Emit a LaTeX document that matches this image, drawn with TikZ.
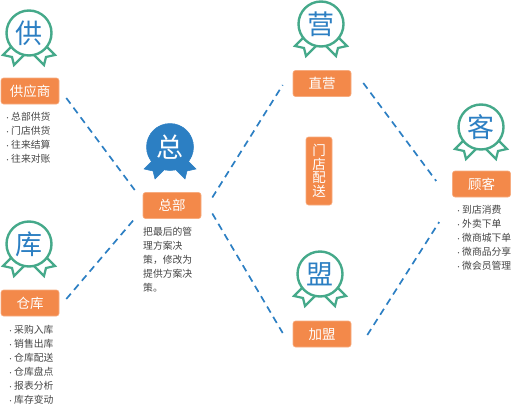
\documentclass[tikz,border=0pt]{standalone}
\usepackage{fontspec}
\setmainfont{Noto Sans CJK SC}
\definecolor{medalgreen}{HTML}{45A98A}
\definecolor{medalblue}{HTML}{2C7FC3}
\definecolor{boxorange}{HTML}{F3894A}
\definecolor{listgray}{HTML}{444444}
\newcommand{\itemdot}{\makebox[6.5pt][l]{\fontsize{6}{6}\selectfont ·}}
\tikzset{
  tag/.style={fill=boxorange,draw=boxorange!70!white,line width=0.6pt,rounded corners=2.5pt,text=white,
    font=\fontsize{13.5}{13.5}\selectfont,inner sep=0pt,minimum width=58pt,minimum height=26pt},
  medal/.style={circle,draw=medalgreen,fill=white,line width=2.4pt,minimum size=45pt,inner sep=0pt,
    text=medalblue,font=\fontsize{27}{27}\selectfont},
  medalhq/.style={medal,draw=medalblue,fill=medalblue,line width=0.5pt,minimum size=47pt,text=white},
  items/.style={anchor=north west,align=left,inner sep=0pt,text=listgray,
    font=\fontsize{9.8}{14}\selectfont},
  link/.style={draw=medalblue,line width=1.7pt,dash pattern=on 7pt off 5pt},
  pics/ribbons/.style={code={
    \draw[#1,line join=miter] (-17,13) -- (-26,22) -- (-17,24) -- (-15,32) -- (-5,22)
      (17,13) -- (26,22) -- (17,24) -- (15,32) -- (5,22);
  }}
}
\begin{document}
\begin{tikzpicture}[x=1pt,y=-1pt]
      \useasboundingbox (0,0) rectangle (513,404);

      % Ribbons
      \pic at (29,33) {ribbons={draw=medalgreen,fill=white,line width=2.2pt}};
      \pic at (29,244) {ribbons={draw=medalgreen,fill=white,line width=2.2pt}};
      \pic at (321,24) {ribbons={draw=medalgreen,fill=white,line width=2.2pt}};
      \pic at (320,274) {ribbons={draw=medalgreen,fill=white,line width=2.2pt}};
      \pic at (481,127) {ribbons={draw=medalgreen,fill=white,line width=2.2pt}};
      \pic at (170,147) {ribbons={draw=medalblue,fill=medalblue,line width=0.5pt}};

      % Medals
      \node[medal] (medalgong) at (29,33) {供};
      \node[medal] (medalku) at (29,244) {库};
      \node[medal] (medalying) at (321,24) {营};
      \node[medal] (medalmeng) at (320,274) {盟};
      \node[medal] (medalke) at (481,127) {客};
      \node[medalhq] (medalzong) at (170,147) {总};

      % Tags
      \node[tag] (supplier) at (30,91) {供应商};
      \node[tag] (store) at (30,303) {仓库};
      \node[tag] (hq) at (172,205.5) {总部};
      \node[tag] (direct) at (322,83.5) {直营};
      \node[tag] (franchise) at (322,334) {加盟};
      \node[tag] (customer) at (481.5,184) {顾客};
      \node[tag,minimum width=26pt,minimum height=68pt,align=center] (delivery) at (319,171) {门\\店\\配\\送};

      % Item lists
      \node[items] (supplierlist) at (4.5,112) {\itemdot 总部供货\\\itemdot 门店供货\\\itemdot 往来结算\\\itemdot 往来对账};
      \node[items] (storelist) at (7.5,325) {\itemdot 采购入库\\\itemdot 销售出库\\\itemdot 仓库配送\\\itemdot 仓库盘点\\\itemdot 报表分析\\\itemdot 库存变动};
      \node[items] (hqnote) at (143,227) {把最后的管\\理方案决\\策，修改为\\提供方案决\\策。};
      \node[items] (customerlist) at (455.5,205) {\itemdot 到店消费\\\itemdot 外卖下单\\\itemdot 微商城下单\\\itemdot 微商品分享\\\itemdot 微会员管理};

      % Dashed links
      \draw[link] ([shift={(7,7)}]supplier.east) -- ([shift={(-8,-15.5)}]hq.west);
      \draw[link] ([shift={(7,-4)}]store.east) -- ([shift={(-7,12)}]hq.west);
      \draw[link] ([shift={(11,-8)}]hq.east) -- ([shift={(-10,1.5)}]direct.west);
      \draw[link] ([shift={(11,8)}]hq.east) -- ([shift={(-10,-1)}]franchise.west);
      \draw[link] ([shift={(12,-0.5)}]direct.east) -- ([shift={(-16,-3)}]customer.west);
      \draw[link] ([shift={(16,1)}]franchise.east) -- ([shift={(-13,38)}]customer.west);

\end{tikzpicture}
\end{document}
